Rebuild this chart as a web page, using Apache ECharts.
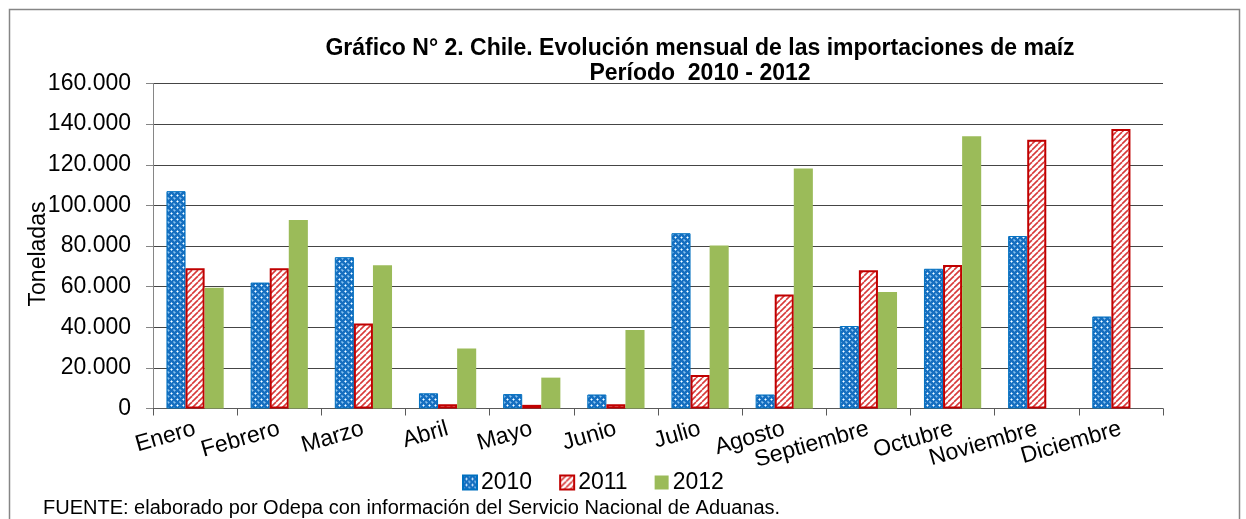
<!DOCTYPE html>
<html>
<head>
<meta charset="utf-8">
<script src="https://cdn.jsdelivr.net/npm/echarts@6/dist/echarts.min.js"></script>
<style>
html,body{margin:0;padding:0;background:#fff;}
#chart{width:1246px;height:519px;}
</style>
</head>
<body>
<div id="chart"></div>
<script>
const months = ['Enero','Febrero','Marzo','Abril','Mayo','Junio','Julio','Agosto','Septiembre','Octubre','Noviembre','Diciembre'];
const seriesNames = ['2010','2011','2012'];
const v2010 = [107000, 62000, 74500, 7500, 7100, 6900, 86300, 6900, 40600, 68800, 84900, 45300];
const v2011 = [69000, 69000, 41800, 2100, 1800, 2100, 16500, 56100, 68100, 70600, 132300, 137600];
const v2012 = [59500, 92800, 70500, 29500, 15200, 38700, 80200, 118200, 57300, 134000, null, null];
const yTicks = [0, 20000, 40000, 60000, 80000, 100000, 120000, 140000, 160000];

const FONT = '"Liberation Sans", Arial, sans-serif';

function bluePattern() {
  const c = document.createElement('canvas');
  c.width = 6; c.height = 6;
  const g = c.getContext('2d');
  g.fillStyle = '#166fc0'; g.fillRect(0,0,6,6);
  g.fillStyle = '#8cc2ee';
  [[3,2],[2,3],[4,3],[3,4],[0,0]].forEach(p => g.fillRect(p[0],p[1],1,1));
  g.fillStyle = '#ffffff';
  g.fillRect(3,3,1,1);
  g.fillStyle = '#5aa0dc';
  [[0,5],[5,0],[5,5],[1,0],[0,1]].forEach(p => g.fillRect(p[0],p[1],1,1));
  return c;
}
function redPattern() {
  const c = document.createElement('canvas');
  c.width = 6; c.height = 6;
  const g = c.getContext('2d');
  g.fillStyle = '#ffffff'; g.fillRect(0,0,6,6);
  g.strokeStyle = '#d83a3a'; g.lineWidth = 1.6;
  [-6,0,6].forEach(x0 => { g.beginPath(); g.moveTo(x0, 6); g.lineTo(x0+6, 0); g.stroke(); });
  return c;
}

const fmt = v => String(v).replace(/\B(?=(\d{3})+(?!\d))/g, '.');

const chart = echarts.init(document.getElementById('chart'), null, {renderer: 'canvas'});
chart.setOption({
  animation: false,
  backgroundColor: '#fff',
  textStyle: {fontFamily: FONT},
  graphic: [{
    type: 'rect', shape: {x: 9.5, y: 9.5, width: 1230, height: 540},
    style: {fill: 'none', stroke: '#868686', lineWidth: 1.5}, silent: true
  }, {
    type: 'text', left: 43, top: 498,
    style: {text: 'FUENTE: elaborado por Odepa con información del Servicio Nacional de Aduanas.',
      font: '20px ' + FONT, fill: '#000'}
  }],
  title: {
    text: 'Gráfico N° 2. Chile. Evolución mensual de las importaciones de maíz\nPeríodo  2010 - 2012',
    left: 695, top: 31, textAlign: 'center',
    textStyle: {fontFamily: FONT, fontSize: 23, fontWeight: 'bold', color: '#000', lineHeight: 25}
  },
  legend: {
    data: seriesNames,
    left: 457, top: 466,
    itemWidth: 14, itemHeight: 14, itemGap: 27,
    icon: 'rect',
    textStyle: {fontFamily: FONT, fontSize: 23, color: '#000', padding: [0,0,0,-1]}
  },
  grid: {left: 153, right: 83, top: 83.5, bottom: 110.5, containLabel: false},
  xAxis: {
    type: 'category', data: months,
    axisLine: {lineStyle: {color: '#595959', width: 1}},
    axisTick: {show: true, length: 7, lineStyle: {color: '#595959'}},
    axisLabel: {interval: 0, rotate: 16, margin: 20, fontFamily: FONT, fontSize: 23, color: '#000'}
  },
  yAxis: {
    type: 'value', min: 0, max: 160000, interval: 20000,
    name: 'Toneladas', nameLocation: 'middle', nameGap: 103, nameMoveOverlap: false,
    nameTextStyle: {fontFamily: FONT, fontSize: 23, color: '#000', padding: [0,16,0,0]},
    axisLine: {show: true, lineStyle: {color: '#868686'}},
    axisTick: {show: true, length: 7, lineStyle: {color: '#868686'}},
    axisLabel: {margin: 22, fontFamily: FONT, fontSize: 23, color: '#000', formatter: v => fmt(v)},
    splitLine: {lineStyle: {color: '#454545', width: 1}}
  },
  series: [{
    name: seriesNames[0], type: 'bar', data: v2010,
    barGap: '0%', barCategoryGap: '32%',
    itemStyle: {color: {image: bluePattern(), repeat: 'repeat'}, borderColor: '#0070C0', borderWidth: 1}
  }, {
    name: seriesNames[1], type: 'bar', data: v2011,
    barGap: '0%', barCategoryGap: '32%',
    itemStyle: {color: {image: redPattern(), repeat: 'repeat'}, borderColor: '#C00000', borderWidth: 2}
  }, {
    name: seriesNames[2], type: 'bar', data: v2012,
    barGap: '0%', barCategoryGap: '32%',
    itemStyle: {color: '#9BBB59'}
  }]
});
</script>
</body>
</html>
